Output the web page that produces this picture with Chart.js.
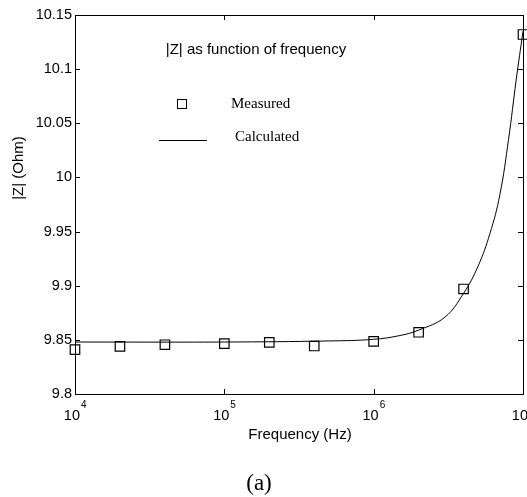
<!DOCTYPE html>
<html>
<head>
<meta charset="utf-8">
<script src="https://cdn.jsdelivr.net/npm/chart.js@4"></script>
<style>
  html, body { margin: 0; padding: 0; background: #fff; }
  #wrap { width: 527px; height: 497px; position: relative; }
</style>
</head>
<body>
<div id="wrap"><canvas id="c"></canvas></div>
<script>
// measured |Z| points
const measuredFreq = [1e4, 2e4, 4e4, 1e5, 2e5, 4e5, 1e6, 2e6, 4e6, 1e7]
const measuredZ = [9.841, 9.844, 9.8455, 9.8465, 9.8477, 9.8443, 9.8486, 9.857, 9.897, 10.132]

// calculated curve
const calcFreq = [1e4, 1e5, 5e5, 1e6, 1.5e6, 2e6, 3e6, 4e6, 5e6, 6e6, 7e6, 8e6, 9e6, 1e7]
const calcZ = [9.848, 9.848, 9.849, 9.8505, 9.854, 9.859, 9.871, 9.893, 9.918, 9.948, 9.984, 10.035, 10.09, 10.135]

const yTicks = [9.8, 9.85, 9.9, 9.95, 10, 10.05, 10.1, 10.15]
const xTicks = [1e4, 1e5, 1e6, 1e7]

const sans = "Arial, 'Liberation Sans', sans-serif"
const serif = "'Times New Roman', 'Liberation Serif', serif"

const axesPlugin = {
  id: "matlabAxes",
  afterDraw(chart) {
    const { ctx, chartArea: a, scales: { x, y } } = chart
    ctx.save()
    ctx.strokeStyle = "#000"
    ctx.lineWidth = 1
    ctx.strokeRect(a.left + 0.5, a.top + 0.5, a.right - a.left, a.bottom - a.top)

    // inward ticks
    ctx.beginPath()
    yTicks.forEach(v => {
      const py = Math.round(y.getPixelForValue(v)) + 0.5
      ctx.moveTo(a.left, py); ctx.lineTo(a.left + 5, py)
      ctx.moveTo(a.right, py); ctx.lineTo(a.right - 5, py)
    })
    xTicks.forEach(v => {
      const px = Math.round(x.getPixelForValue(v)) + 0.5
      ctx.moveTo(px, a.bottom); ctx.lineTo(px, a.bottom - 5)
      ctx.moveTo(px, a.top); ctx.lineTo(px, a.top + 5)
    })
    ctx.stroke()

    ctx.fillStyle = "#000"
    ctx.font = "14.5px " + sans
    ctx.textAlign = "right"
    ctx.textBaseline = "middle"
    yTicks.forEach(v => {
      ctx.fillText(String(v), a.left - 3, y.getPixelForValue(v))
    })

    xTicks.forEach(v => {
      const px = x.getPixelForValue(v)
      ctx.font = "14.5px " + sans
      ctx.textAlign = "right"
      ctx.textBaseline = "alphabetic"
      ctx.fillText("10", px + 5, a.bottom + 26)
      ctx.font = "10px " + sans
      ctx.textAlign = "left"
      ctx.fillText(String(Math.round(Math.log10(v))), px + 6, a.bottom + 14)
    })

    ctx.font = "15px " + sans
    ctx.textAlign = "center"
    ctx.textBaseline = "middle"
    ctx.fillText("Frequency (Hz)", 300, 435)
    ctx.fillText("|Z| as function of frequency", 256, 50)

    ctx.save()
    ctx.translate(19, 168)
    ctx.rotate(-Math.PI / 2)
    ctx.fillText("|Z| (Ohm)", 0, 0)
    ctx.restore()

    // legend
    ctx.lineWidth = 1
    ctx.strokeRect(177.5, 99.5, 9, 9)
    ctx.beginPath()
    ctx.moveTo(159, 140.5); ctx.lineTo(207, 140.5)
    ctx.stroke()
    ctx.font = "15px " + serif
    ctx.textAlign = "left"
    ctx.fillText("Measured", 231, 104)
    ctx.fillText("Calculated", 235, 137)

    ctx.font = "23px " + serif
    ctx.textAlign = "center"
    ctx.fillText("(a)", 259, 484)
    ctx.restore()
  }
}

new Chart(document.getElementById("c"), {
  type: "scatter",
  data: {
    datasets: [
      {
        label: "Calculated",
        data: calcFreq.map((f, i) => ({ x: f, y: calcZ[i] })),
        showLine: true,
        borderColor: "#000",
        borderWidth: 1,
        pointRadius: 0,
        tension: 0.4,
        fill: false
      },
      {
        label: "Measured",
        data: measuredFreq.map((f, i) => ({ x: f, y: measuredZ[i] })),
        pointStyle: "rect",
        pointRadius: 6.7,
        pointBorderColor: "#000",
        pointBackgroundColor: "rgba(0,0,0,0)",
        pointBorderWidth: 1.2,
        showLine: false
      }
    ]
  },
  options: {
    responsive: true,
    maintainAspectRatio: false,
    animation: false,
    clip: false,
    layout: { autoPadding: false, padding: { left: 75, top: 15, right: 4, bottom: 103 } },
    plugins: { legend: { display: false }, tooltip: { enabled: false } },
    scales: {
      x: { type: "logarithmic", min: 1e4, max: 1e7, display: false },
      y: { type: "linear", min: 9.8, max: 10.15, display: false }
    }
  },
  plugins: [axesPlugin]
})
</script>
</body>
</html>
